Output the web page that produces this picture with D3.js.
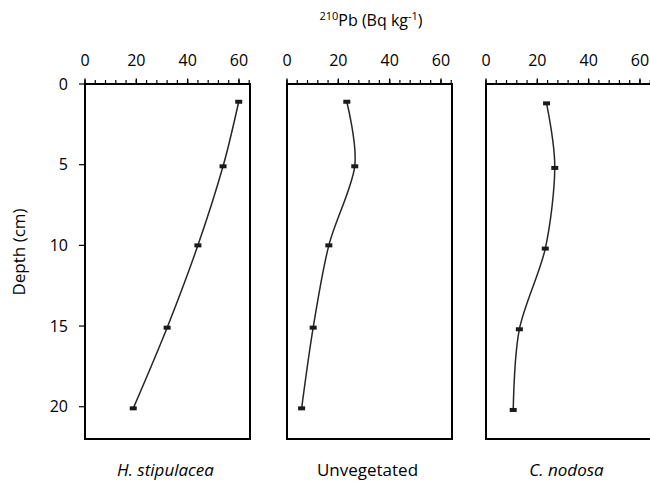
<!DOCTYPE html>
<html>
<head>
<meta charset="utf-8">
<script src="https://cdn.jsdelivr.net/npm/d3@7"></script>
<style>
  body { margin: 0; background: #fff; }
  text { font-family: "Open Sans", "Noto Sans", sans-serif; fill: #000; }
</style>
</head>
<body>
<svg id="chart" width="650" height="481"></svg>
<script>
var sites = ["H. stipulacea", "Unvegetated", "C. nodosa"],
    italicSite = [true, false, true],
    depth = [
        [1.1, 5.1, 10.0, 15.1, 20.1],
        [1.1, 5.1, 10.0, 15.1, 20.1],
        [1.2, 5.2, 10.2, 15.2, 20.2]
    ],
    pb210 = [
        [59.9, 53.8, 44.0, 32.0, 18.8],
        [23.3, 26.4, 16.3, 10.2, 5.7],
        [23.6, 26.8, 23.1, 13.0, 10.6]
    ],
    xMajor = [0, 20, 40, 60],
    yTicks = [0, 5, 10, 15, 20];

var svg = d3.select("#chart");
var panelLeft = [85, 287, 486],
    panelW = 165,
    plotTop = 84,
    plotBottom = 439;

var y = d3.scaleLinear().domain([0, 22]).range([plotTop, plotBottom]);

sites.forEach(function (name, i) {
    var x = d3.scaleLinear().domain([0, 64.3]).range([panelLeft[i], panelLeft[i] + panelW]);
    var g = svg.append("g");

    // box
    g.append("rect")
        .attr("x", panelLeft[i]).attr("y", plotTop)
        .attr("width", panelW).attr("height", plotBottom - plotTop)
        .attr("fill", "none").attr("stroke", "#000").attr("stroke-width", 2);

    // minor ticks every 4
    var minor = d3.range(0, 65, 4);
    g.selectAll(".minor").data(minor).enter().append("line")
        .attr("x1", function (d) { return x(d); }).attr("x2", function (d) { return x(d); })
        .attr("y1", plotTop - 4).attr("y2", plotTop)
        .attr("stroke", "#000").attr("stroke-width", 1.2);
    g.selectAll(".major").data(xMajor).enter().append("line")
        .attr("x1", function (d) { return x(d); }).attr("x2", function (d) { return x(d); })
        .attr("y1", plotTop - 5.5).attr("y2", plotTop)
        .attr("stroke", "#000").attr("stroke-width", 1.4);
    g.selectAll(".xlab").data(xMajor).enter().append("text")
        .attr("x", function (d) { return x(d); })
        .attr("y", 66)
        .attr("text-anchor", "middle")
        .style("font-size", "16px")
        .text(function (d) { return d; });

    // line
    var pts = depth[i].map(function (d, k) { return [pb210[i][k], d]; });
    var line = d3.line()
        .x(function (d) { return x(d[0]); })
        .y(function (d) { return y(d[1]); })
        .curve(d3.curveCardinal.tension(0.1));
    g.append("path").datum(pts)
        .attr("d", line)
        .attr("fill", "none").attr("stroke", "#262626").attr("stroke-width", 1.5);

    g.selectAll(".mk").data(pts).enter().append("rect")
        .attr("x", function (d) { return x(d[0]) - 3.5; })
        .attr("y", function (d) { return y(d[1]) - 2; })
        .attr("width", 7).attr("height", 4)
        .attr("fill", "#1a1a1a");

    g.append("text")
        .attr("x", panelLeft[i] + panelW / 2 - 2)
        .attr("y", 476)
        .attr("text-anchor", "middle")
        .style("font-size", "17px")
        .style("font-style", italicSite[i] ? "italic" : "normal")
        .text(name);

    if (i === 0) {
        g.selectAll(".ytick").data(yTicks).enter().append("line")
            .attr("x1", panelLeft[i] - 6).attr("x2", panelLeft[i])
            .attr("y1", function (d) { return y(d); }).attr("y2", function (d) { return y(d); })
            .attr("stroke", "#000").attr("stroke-width", 1.2);
        g.selectAll(".ylab").data(yTicks).enter().append("text")
            .attr("x", panelLeft[i] - 17)
            .attr("y", function (d) { return y(d); })
            .attr("dy", "0.36em")
            .attr("text-anchor", "end")
            .style("font-size", "16px")
            .text(function (d) { return d; });
    }
});

svg.append("text")
    .attr("transform", "translate(25,252) rotate(-90)")
    .attr("text-anchor", "middle")
    .style("font-size", "17px")
    .text("Depth (cm)");

var title = svg.append("text")
    .attr("x", 371).attr("y", 26)
    .attr("text-anchor", "middle")
    .style("font-size", "16px");
title.append("tspan").attr("dy", "-6").style("font-size", "11px").text("210");
title.append("tspan").attr("dy", "6").text("Pb (Bq kg");
title.append("tspan").attr("dy", "-6").style("font-size", "11px").text("-1");
title.append("tspan").attr("dy", "6").text(")");
</script>
</body>
</html>
